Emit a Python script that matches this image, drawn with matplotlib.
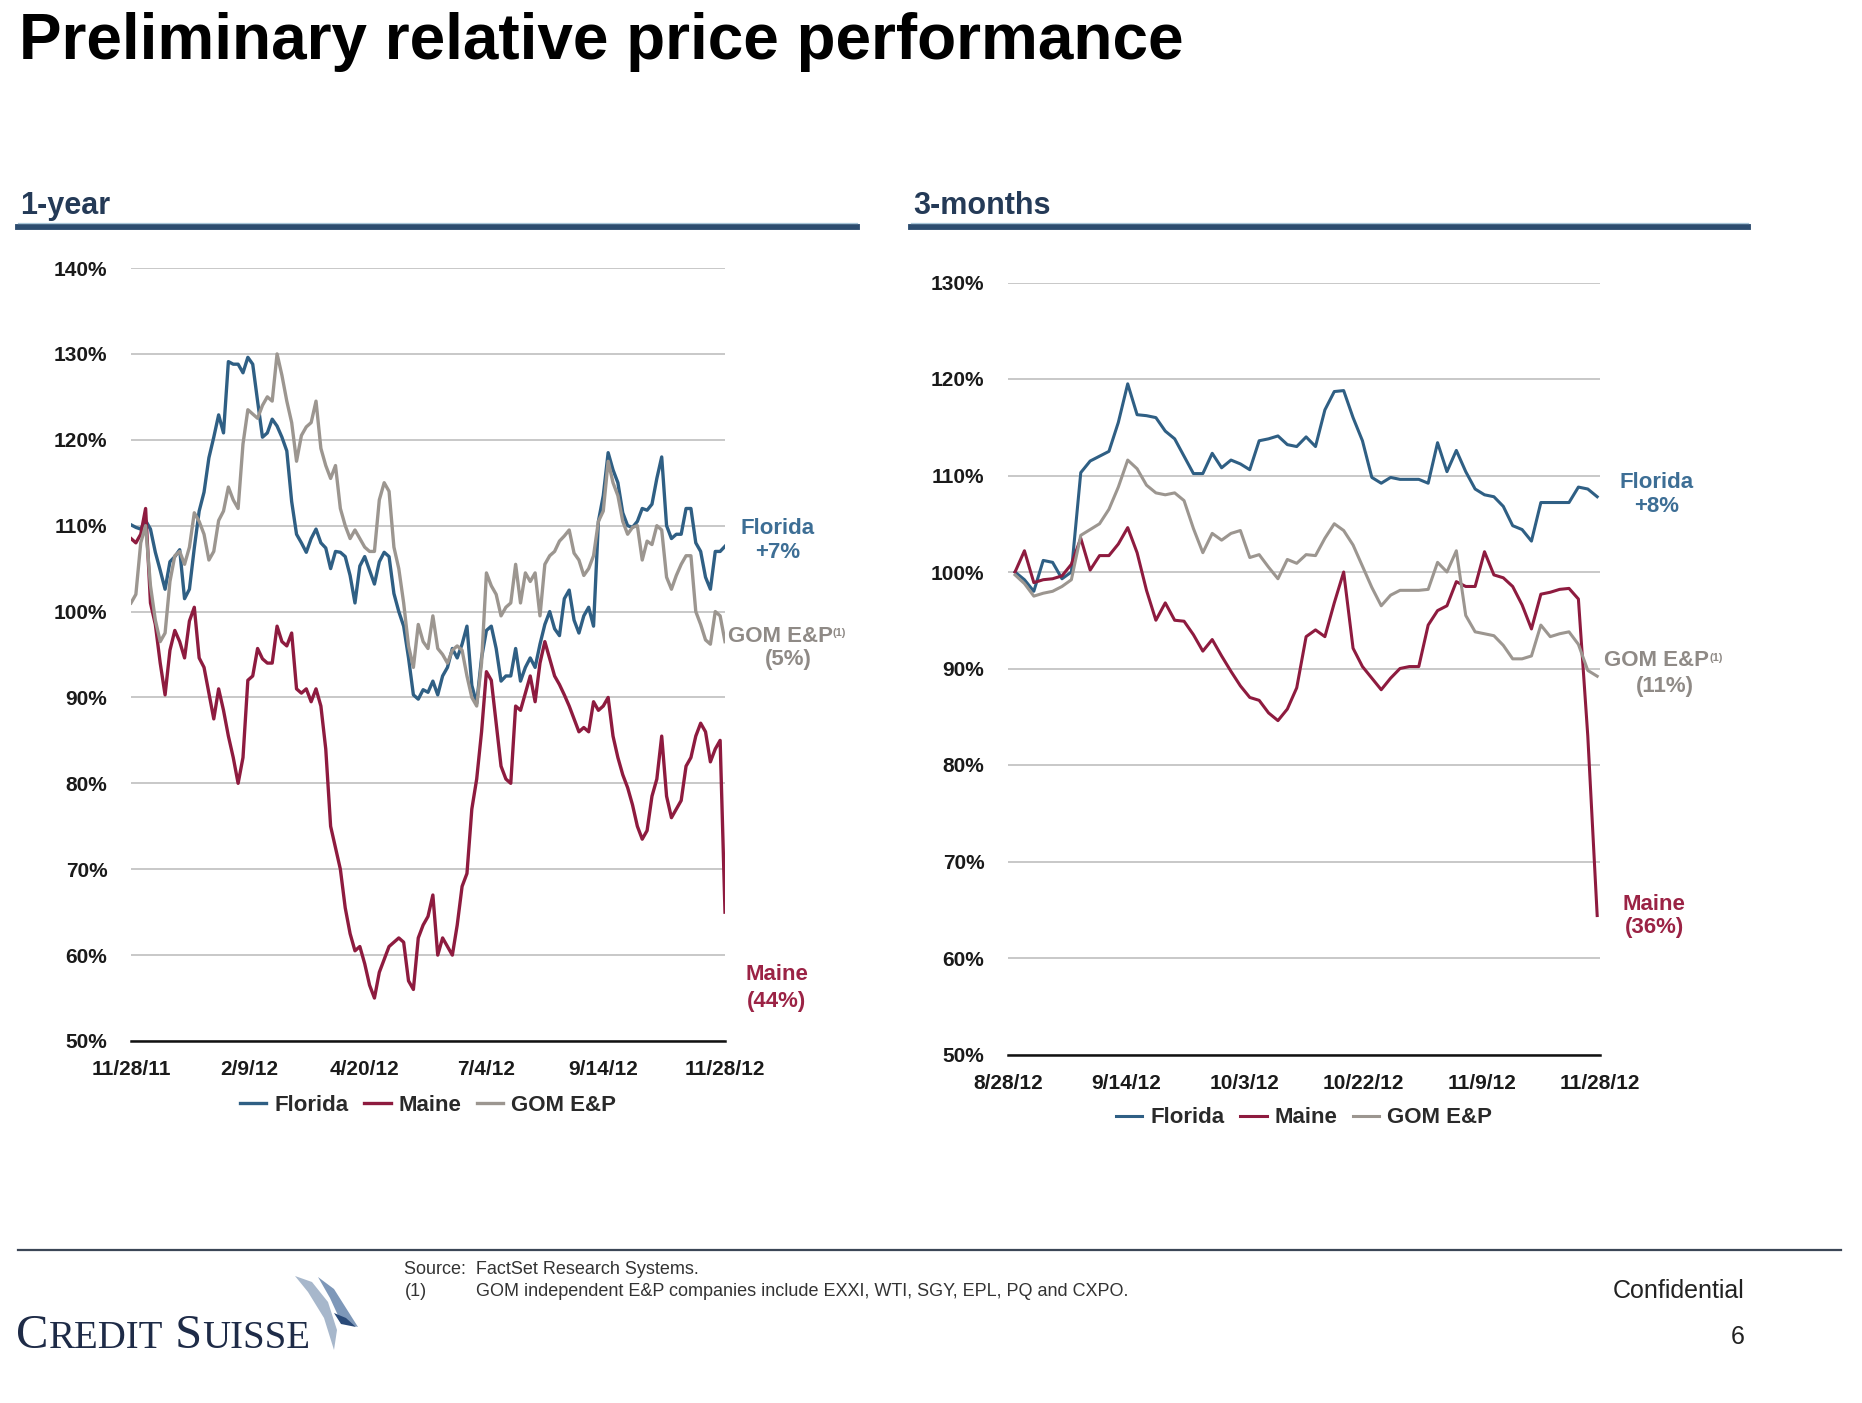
import numpy as np
import matplotlib
matplotlib.use('Agg')
import matplotlib.pyplot as plt
from matplotlib.lines import Line2D
from matplotlib.patches import Polygon
from matplotlib.offsetbox import TextArea, HPacker, AnchoredOffsetbox

# Datos del grafico de 1 ano (un valor cada 3 dias desde 11/28/11)
dias_1a = np.arange(0, 367, 3)
florida_1a = [110.1, 109.8, 109.6, 110.6, 109.6, 106.9, 104.8, 102.6, 105.8, 106.4,
              107.2, 101.5, 102.6, 107.4, 111.7, 113.9, 117.9, 120.3, 122.9, 120.8,
              129.1, 128.8, 128.8, 127.8, 129.6, 128.8, 124.5, 120.3, 120.8, 122.4,
              121.6, 120.3, 118.7, 112.8, 109.0, 108.0, 106.9, 108.5, 109.6, 108.0,
              107.4, 105.0, 107.0, 106.9, 106.4, 104.2, 101.0, 105.3, 106.4, 104.8,
              103.2, 105.8, 106.9, 106.4, 102.1, 100.0, 98.3, 94.6, 90.3, 89.8,
              90.9, 90.6, 91.9, 90.3, 92.5, 93.5, 95.7, 94.6, 96.2, 98.3,
              91.4, 89.3, 94.6, 97.8, 98.3, 95.7, 91.9, 92.5, 92.5, 95.7,
              91.9, 93.5, 94.6, 93.5, 96.2, 98.5, 100.0, 98.0, 97.2, 101.5,
              102.5, 99.0, 97.5, 99.5, 100.5, 98.3, 110.5, 113.5, 118.5, 116.5,
              115.0, 111.5, 110.0, 109.8, 110.5, 112.0, 111.8, 112.5, 115.5, 118.0,
              110.0, 108.5, 109.0, 109.0, 112.0, 112.0, 108.0, 107.0, 104.0, 102.6,
              107.0, 107.0, 107.6]
maine_1a = [108.5, 108.0, 109.0, 112.0, 101.0, 98.5, 94.0, 90.3, 95.5, 97.8,
            96.5, 94.6, 98.9, 100.5, 94.6, 93.5, 90.5, 87.5, 91.0, 88.5,
            85.5, 83.0, 80.0, 83.0, 92.0, 92.5, 95.7, 94.5, 94.0, 94.0,
            98.3, 96.5, 96.0, 97.5, 91.0, 90.5, 91.0, 89.5, 91.0, 89.0,
            84.0, 75.0, 72.5, 70.0, 65.5, 62.5, 60.5, 61.0, 59.0, 56.5,
            55.0, 58.0, 59.5, 61.0, 61.5, 62.0, 61.5, 57.0, 56.0, 62.0,
            63.5, 64.5, 67.0, 60.0, 62.0, 61.0, 60.0, 63.5, 68.0, 69.5,
            77.0, 80.5, 86.0, 93.0, 92.0, 87.0, 82.0, 80.5, 80.0, 89.0,
            88.5, 90.5, 92.5, 89.5, 94.0, 96.5, 94.5, 92.5, 91.5, 90.3,
            89.0, 87.5, 86.0, 86.5, 86.0, 89.5, 88.5, 89.0, 90.0, 85.5,
            83.0, 81.0, 79.5, 77.5, 75.0, 73.5, 74.5, 78.5, 80.5, 85.5,
            78.5, 76.0, 77.0, 78.0, 82.0, 83.0, 85.5, 87.0, 86.0, 82.5,
            84.0, 85.0, 65.0]
gom_1a = [101.0, 102.0, 108.0, 110.0, 103.0, 99.0, 96.5, 97.5, 103.5, 106.5,
          107.0, 105.5, 107.5, 111.5, 110.5, 109.0, 106.0, 107.0, 110.6, 111.7,
          114.5, 113.0, 112.0, 119.5, 123.5, 123.0, 122.5, 124.0, 125.0, 124.5,
          130.0, 127.5, 124.5, 122.0, 117.5, 120.5, 121.5, 122.0, 124.5, 119.0,
          117.0, 115.5, 117.0, 112.0, 110.0, 108.5, 109.5, 108.5, 107.5, 107.0,
          107.0, 113.0, 115.0, 114.0, 107.5, 105.0, 101.0, 96.0, 93.5, 98.5,
          96.5, 95.7, 99.5, 95.7, 95.0, 94.0, 95.5, 96.0, 95.5, 92.5,
          90.0, 89.0, 94.0, 104.5, 103.0, 102.0, 99.5, 100.5, 101.0, 105.5,
          101.0, 104.5, 103.5, 104.5, 99.5, 105.5, 106.5, 107.0, 108.2, 108.8,
          109.5, 106.8, 106.0, 104.2, 105.0, 106.5, 110.5, 111.7, 117.5, 115.0,
          113.5, 110.5, 109.0, 109.8, 110.0, 106.0, 108.2, 107.8, 110.0, 109.5,
          104.0, 102.6, 104.2, 105.5, 106.5, 106.5, 100.0, 98.5, 96.7, 96.2,
          100.0, 99.5, 96.5]
ticks_1a = [0, 73, 144, 219, 291, 366]
etiquetas_1a = ['11/28/11', '2/9/12', '4/20/12', '7/4/12', '9/14/12', '11/28/12']

# Datos del grafico de 3 meses (sesiones desde 8/28/12)
florida_3m = [100.0, 99.2, 98.0, 101.2, 101.0, 99.3, 100.0, 110.3, 111.5, 112.0,
              112.5, 115.5, 119.5, 116.3, 116.2, 116.0, 114.6, 113.8, 112.0, 110.2,
              110.2, 112.3, 110.8, 111.6, 111.2, 110.6, 113.6, 113.8, 114.1, 113.2,
              113.0, 114.0, 113.0, 116.8, 118.7, 118.8, 116.0, 113.6, 109.8, 109.2,
              109.8, 109.6, 109.6, 109.6, 109.2, 113.4, 110.4, 112.6, 110.4, 108.6,
              108.0, 107.8, 106.8, 104.8, 104.4, 103.2, 107.2, 107.2, 107.2, 107.2,
              108.8, 108.6, 107.8]
maine_3m = [100.0, 102.2, 98.9, 99.2, 99.3, 99.6, 100.8, 103.5, 100.2, 101.7,
            101.7, 102.9, 104.6, 102.0, 98.1, 95.0, 96.8, 95.0, 94.9, 93.5,
            91.8, 93.0, 91.3, 89.7, 88.2, 87.0, 86.7, 85.4, 84.6, 85.8,
            88.0, 93.3, 94.0, 93.3, 96.8, 100.0, 92.1, 90.2, 89.0, 87.8,
            89.0, 90.0, 90.2, 90.2, 94.5, 96.0, 96.5, 99.0, 98.5, 98.5,
            102.1, 99.7, 99.4, 98.5, 96.6, 94.1, 97.7, 97.9, 98.2, 98.3,
            97.2, 83.0, 64.4]
gom_3m = [99.7, 98.8, 97.5, 97.8, 98.0, 98.5, 99.2, 103.8, 104.4, 105.0,
          106.5, 108.8, 111.6, 110.7, 109.0, 108.2, 108.0, 108.2, 107.4, 104.5,
          102.0, 104.0, 103.3, 104.0, 104.3, 101.5, 101.8, 100.5, 99.3, 101.3,
          100.9, 101.8, 101.7, 103.5, 105.0, 104.3, 102.8, 100.6, 98.4, 96.5,
          97.6, 98.1, 98.1, 98.1, 98.2, 101.0, 100.0, 102.2, 95.5, 93.8,
          93.6, 93.4, 92.4, 91.0, 91.0, 91.3, 94.5, 93.3, 93.6, 93.8,
          92.5, 89.8, 89.2]
etiquetas_3m = ['8/28/12', '9/14/12', '10/3/12', '10/22/12', '11/9/12', '11/28/12']

AZUL = '#2F5F84'
GRANATE = '#8E1B3F'
GRIS = '#9C9690'
NAVY = '#243A57'

W, H = 1862, 1403


def px(x, y):
    return (x / W, 1 - y / H)


plt.rcParams['font.family'] = ['Liberation Sans', 'DejaVu Sans']
fig = plt.figure(figsize=(W / 100, H / 100), dpi=100)
fig.patch.set_facecolor('white')

# Titulo
fig.text(*px(19, 59), 'Preliminary relative price performance', fontsize=46,
         fontweight='bold', va='baseline', color='black')

# Encabezados de seccion con su barra
for x0, x1, texto in [(18, 857, '1-year'), (911, 1748, '3-months')]:
    fig.text(*px(x0 + 2, 214), texto, fontsize=22, fontweight='bold',
             color=NAVY, va='baseline')
    fig.add_artist(Line2D([x0 / W, x1 / W], [1 - 226.5 / H] * 2, lw=4.2, color='#2C4C6F'))
    fig.add_artist(Line2D([x0 / W, x1 / W], [1 - 223 / H] * 2, lw=0.9, color='#A8C6D8'))


def estilo(ax, yticks):
    ax.set_yticks(yticks)
    ax.set_yticklabels([f'{v}%' for v in yticks])
    ax.grid(axis='y', color='#C4C4C4', lw=1.3)
    ax.set_axisbelow(True)
    for s in ['top', 'right', 'left']:
        ax.spines[s].set_visible(False)
    ax.spines['bottom'].set_color('#111111')
    ax.spines['bottom'].set_linewidth(1.8)
    ax.tick_params(axis='both', length=0, labelsize=15, colors='#1A1A1A')
    ax.tick_params(axis='y', pad=17)
    ax.tick_params(axis='x', pad=14)
    for t in ax.get_xticklabels() + ax.get_yticklabels():
        t.set_fontweight('bold')


# Grafico 1 ano
ax1 = fig.add_axes([131 / W, 1 - 1041 / H, 594 / W, 773 / H])
ax1.plot(dias_1a, florida_1a, color=AZUL, lw=2.4, label='Florida')
ax1.plot(dias_1a, maine_1a, color=GRANATE, lw=2.4, label='Maine')
ax1.plot(dias_1a, gom_1a, color=GRIS, lw=2.4, label='GOM E&P')
ax1.set_xlim(0, 366)
ax1.set_ylim(50, 140)
ax1.set_xticks(ticks_1a)
ax1.set_xticklabels(etiquetas_1a)
estilo(ax1, list(range(50, 141, 10)))
ax1.legend(loc='center', bbox_to_anchor=(0.5, -0.083), ncol=3, frameon=False,
           handlelength=1.2, handletextpad=0.35, columnspacing=0.7,
           prop={'size': 16, 'weight': 'bold'}, labelcolor='#2A2A2A')

# Grafico 3 meses
sesiones = np.arange(len(florida_3m))
ax2 = fig.add_axes([1008 / W, 1 - 1054.5 / H, 592 / W, 772 / H])
ax2.plot(sesiones, florida_3m, color=AZUL, lw=2.2, label='Florida')
ax2.plot(sesiones, maine_3m, color=GRANATE, lw=2.2, label='Maine')
ax2.plot(sesiones, gom_3m, color=GRIS, lw=2.2, label='GOM E&P')
ax2.set_xlim(-0.75, 62.3)
ax2.set_ylim(50, 130)
ax2.set_xticks(np.linspace(-0.75, 62.3, len(etiquetas_3m)))
ax2.set_xticklabels(etiquetas_3m)
estilo(ax2, list(range(50, 131, 10)))
ax2.legend(loc='center', bbox_to_anchor=(0.5, -0.082), ncol=3, frameon=False,
           handlelength=1.2, handletextpad=0.35, columnspacing=0.7,
           prop={'size': 16, 'weight': 'bold'}, labelcolor='#2A2A2A')


# Etiquetas al final de las series
def etiqueta(x, y1, y2, l1, l2, color, sup=False):
    t = fig.text(*px(x, y1), l1, ha='center', va='center', fontsize=16,
                 fontweight='bold', color=color)
    fig.text(*px(x + (8 if sup else 0), y2), l2, ha='center', va='center',
             fontsize=16, fontweight='bold', color=color)
    if sup:
        ax1.annotate('(1)', xy=(1.0, 0.88), xycoords=t, fontsize=8,
                     fontweight='bold', color=color, ha='left', va='top',
                     annotation_clip=False)


etiqueta(778, 528, 553, 'Florida', '+7%', '#3D6E95')
etiqueta(780, 636, 660, 'GOM E&P', '(5%)', '#8F8A86', sup=True)
etiqueta(777, 975, 1001, 'Maine', '(44%)', '#9B2345')
etiqueta(1657, 483, 507, 'Florida', '+8%', '#3D6E95')
etiqueta(1657, 661, 686, 'GOM E&P', '(11%)', '#8F8A86', sup=True)
etiqueta(1654, 904, 927, 'Maine', '(36%)', '#9B2345')

# Pie de pagina
fig.add_artist(Line2D([18 / W, 1841 / W], [1 - 1250 / H] * 2, lw=1.6, color='#3B4656'))
fig.text(*px(404, 1269), 'Source:  FactSet Research Systems.', fontsize=13,
         va='center', color='#333333')
fig.text(*px(405, 1292), '(1)', fontsize=13, va='center', color='#333333')
fig.text(*px(476, 1292), 'GOM independent E&P companies include EXXI, WTI, SGY, EPL, PQ and CXPO.',
         fontsize=13, va='center', color='#333333')
fig.text(*px(1745, 1291), 'Confidential', fontsize=18, ha='right', va='center', color='#222222')
fig.text(*px(1745, 1337), '6', fontsize=18, ha='right', va='center', color='#222222')

# Logotipo
partes = [('C', 35), ('REDIT', 28), (' S', 35), ('UISSE', 28)]
cajas = [TextArea(t, textprops=dict(fontsize=s, family='Liberation Serif', color='#1E2B47'))
         for t, s in partes]
pack = HPacker(children=cajas, align='baseline', pad=0, sep=0)
fig.add_artist(AnchoredOffsetbox(loc='lower left', child=pack, pad=0, borderpad=0, frameon=False,
                                 bbox_to_anchor=px(16, 1358), bbox_transform=fig.transFigure))
velas = [
    ([(295, 1276), (312, 1282), (328, 1302), (337, 1330), (334, 1350), (324, 1318), (308, 1292)], '#A7B7CB'),
    ([(318, 1277), (334, 1289), (358, 1327), (341, 1322), (330, 1298)], '#7E98B9'),
    ([(334, 1313), (346, 1318), (356, 1327), (341, 1324)], '#2A4A78'),
]
for pts, col in velas:
    fig.add_artist(Polygon([px(x, y) for x, y in pts], closed=True, transform=fig.transFigure,
                           facecolor=col, edgecolor='none'))

fig.savefig('out.png', dpi=100, facecolor='white')
